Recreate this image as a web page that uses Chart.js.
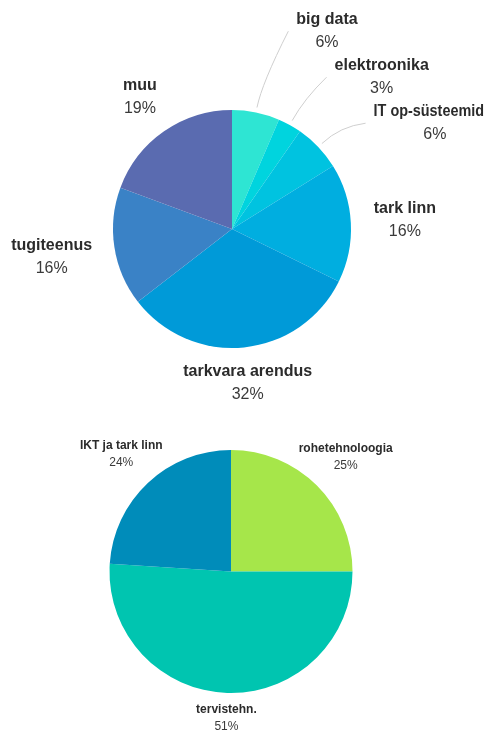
<!DOCTYPE html>
<html><head><meta charset="utf-8">
<script src="https://cdn.jsdelivr.net/npm/chart.js@4"></script>
<style>
html,body{margin:0;padding:0;background:#fff}
#a{position:absolute;left:0;top:0;width:496px;height:410px}
#b{position:absolute;left:0;top:410px;width:496px;height:321px}
</style>
</head><body>
<div id="a"><canvas id="c1"></canvas></div>
<div id="b"><canvas id="c2"></canvas></div>
<script>
const topCategories = ['big data','elektroonika','IT op-süsteemid','tark linn','tarkvara arendus','tugiteenus','muu'];
const topValues = [2,1,2,5,10,5,6];
const topColors = ['#2ee5d3','#00d4de','#00c3e0','#00aee0','#009ad8','#3a82c6','#5a6bb0'];

const bottomCategories = ['rohetehnoloogia','tervistehn.','IKT ja tark linn'];
const bottomValues = [25,51,24];
const bottomColors = ['#a6e64a','#00c5b0','#008cba'];

const FONT = '"Liberation Sans", Arial, sans-serif';

function labelPlugin(o){
  return {
    id: 'pieLabels',
    afterDatasetsDraw(chart){
      const ctx = chart.ctx;
      const meta = chart.getDatasetMeta(0);
      const ds = chart.data.datasets[0];
      const total = ds.data.reduce((a,b)=>a+b,0);
      const edge = chart.width - 12;
      const items = [];
      meta.data.forEach((arc,i)=>{
        const p = arc.getProps(['x','y','startAngle','endAngle','outerRadius'], true);
        const frac = ds.data[i]/total;
        const mid = (p.startAngle+p.endAngle)/2;
        const title = chart.data.labels[i];
        const pct = Math.round(frac*100)+'%';
        ctx.font = 'bold '+o.size+'px '+FONT;
        const w1 = ctx.measureText(title).width;
        ctx.font = o.size+'px '+FONT;
        const w2 = ctx.measureText(pct).width;
        const hw = Math.max(w1,w2)/2, hh = o.halfH;
        const leader = frac < o.leaderBelow;
        const ang = leader ? mid + o.shift : mid;
        const c = Math.cos(ang), s = Math.sin(ang);
        const ext = Math.min(Math.abs(c)>1e-6 ? hw/Math.abs(c) : 1e9, Math.abs(s)>1e-6 ? hh/Math.abs(s) : 1e9);
        const gap = leader ? o.leaderGap : o.gap + o.gapK*Math.pow(Math.abs(c),4);
        const d = p.outerRadius + gap + ext;
        items.push({p, mid, title, pct, w1, hh, leader, c, cx: p.x + c*d, cy: p.y + s*d});
      });
      // stack leader labels on the right so they don't overlap vertically
      const stack = items.filter(it => it.leader && it.c > 0).sort((a,b)=>b.cy-a.cy);
      for (let k=1;k<stack.length;k++){
        const lim = stack[k-1].cy - 2*stack[k].hh;
        if (stack[k].cy > lim) stack[k].cy = lim;
      }
      ctx.save();
      items.forEach(it=>{
        const {p, mid, title, pct, w1, leader, c, cx, cy} = it;
        let tw = w1, tx = cx, talign = 'center';
        if (cx + w1/2 > edge){
          tw = Math.max(2*(edge-cx), 0.9*w1);
          tx = edge; talign = 'right';
        }
        if (leader){
          const mc = Math.cos(mid), ms = Math.sin(mid);
          const sx = p.x + mc*(p.outerRadius+5), sy = p.y + ms*(p.outerRadius+5);
          const qx = p.x + mc*(p.outerRadius+30), qy = p.y + ms*(p.outerRadius+30);
          const left = talign==='right' ? tx - tw : cx - tw/2;
          const ex = c>0 ? left - 8 : cx + tw/2 + 8, ey = cy;
          ctx.strokeStyle = '#cfcfcf'; ctx.lineWidth = 1;
          ctx.beginPath(); ctx.moveTo(sx,sy); ctx.quadraticCurveTo(qx,qy,ex,ey); ctx.stroke();
        }
        ctx.textBaseline = 'middle';
        ctx.fillStyle = '#2b2b2b';
        ctx.font = 'bold '+o.size+'px '+FONT;
        ctx.textAlign = talign;
        ctx.fillText(title, tx, cy - o.lineOff, tw + 0.01);
        ctx.fillStyle = '#3a3a3a';
        ctx.font = o.size+'px '+FONT;
        ctx.textAlign = 'center';
        ctx.fillText(pct, cx, cy + o.lineOff);
      });
      ctx.restore();
    }
  };
}

function makePie(id, labels, values, colors, padding, lo){
  return new Chart(document.getElementById(id), {
    type: 'pie',
    data: { labels: labels, datasets: [{ data: values, backgroundColor: colors, borderWidth: 0 }] },
    options: {
      responsive: true, maintainAspectRatio: false, animation: false,
      layout: { padding: padding },
      plugins: { legend: { display: false }, tooltip: { enabled: false } }
    },
    plugins: [labelPlugin(lo)]
  });
}

makePie('c1', topCategories, topValues, topColors,
  { left: 113, right: 145, top: 110, bottom: 62 },
  { size: 16, halfH: 23, lineOff: 11.5, gap: 13, gapK: 10, leaderGap: 60, leaderBelow: 0.08, shift: 16*Math.PI/180 });

makePie('c2', bottomCategories, bottomValues, bottomColors,
  { left: 109.5, right: 143.5, top: 40, bottom: 38 },
  { size: 12, halfH: 16, lineOff: 8.5, gap: 9, gapK: 36, leaderBelow: 0, shift: 0, leaderGap: 0 });
</script>
</body></html>
